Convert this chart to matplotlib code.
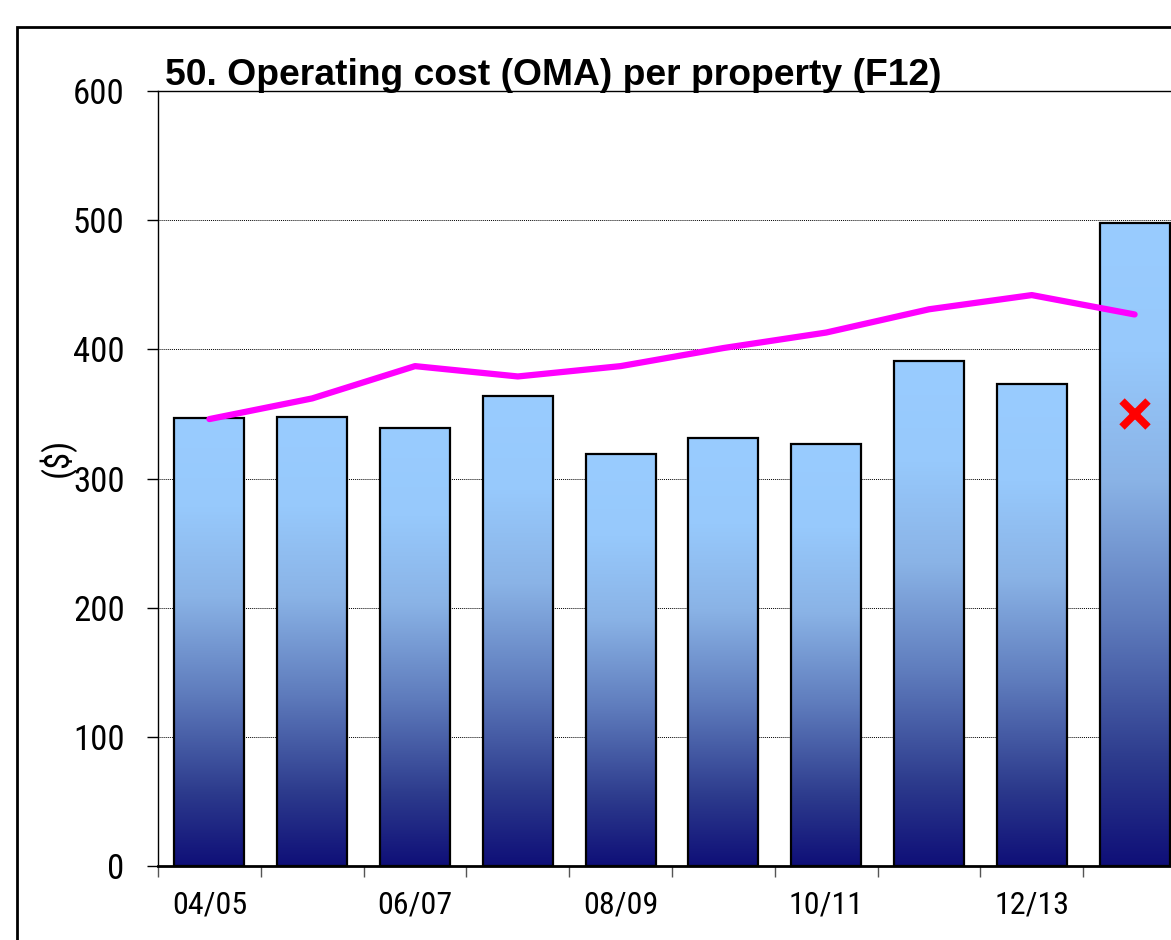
import numpy as np
import matplotlib
matplotlib.use("Agg")
from matplotlib import pyplot as plt
from matplotlib.colors import LinearSegmentedColormap
from matplotlib.patches import Rectangle

# data
years = ["04/05", "05/06", "06/07", "07/08", "08/09", "09/10", "10/11", "11/12", "12/13", "13/14"]
oma_cost = [347, 348, 339, 364, 319, 331, 327, 391, 373, 498]
trend = [346, 362, 387, 379, 387, 401, 413, 431, 442, 427]
marker_val = 350   # red cross on last year
yticks = [0, 100, 200, 300, 400, 500, 600]

NARROW = ["Roboto Condensed", "Liberation Sans", "DejaVu Sans"]
BOLD = ["Liberation Sans", "DejaVu Sans"]

W, H = 1171, 940
fig = plt.figure(figsize=(W / 100, H / 100), dpi=100)

# axes: right edge runs past the picture (chart is cropped)
left, right, bottom, top = 158, 1186, 866, 91
ax = fig.add_axes([left / W, (H - bottom) / H, (right - left) / W, (bottom - top) / H])

# per-bar vertical gradient, dark navy at the base to light blue at the top
grad = LinearSegmentedColormap.from_list(
    "bar", [(0.0, "#0f0f78"), (0.16, "#2c3a8c"), (0.38, "#5e7bbc"), (0.6, "#8ab3e6"), (0.8, "#97c9fc"), (1.0, "#99ccff")])
x = np.arange(len(years))
bw = 0.68
g = np.linspace(0, 1, 256).reshape(-1, 1)
for xi, v in zip(x, oma_cost):
    ax.imshow(g, cmap=grad, origin="lower", aspect="auto",
              extent=[xi - bw / 2, xi + bw / 2, 0, v], zorder=2)
ax.bar(x, oma_cost, width=bw, facecolor="none", edgecolor="black", linewidth=1.6, zorder=3)

ax.plot(x, trend, color="#ff00ff", linewidth=4.5, solid_capstyle="round", solid_joinstyle="round", zorder=4)
ax.plot([x[-1]], [marker_val], marker="x", color="#ff0000", markersize=19, mew=5.5, zorder=5)

ax.set_xlim(-0.5, len(years) - 0.5)
ax.set_ylim(0, 600)
ax.set_yticks(yticks)
ax.set_yticklabels([str(t) for t in yticks], family=NARROW, fontsize=25)
for t in yticks[1:-1]:
    ax.axhline(t, color="black", linestyle=(0, (1, 1)), linewidth=0.7, zorder=1)

ax.set_xticks(x)
ax.set_xticklabels([y if i % 2 == 0 else "" for i, y in enumerate(years)], family=NARROW, fontsize=23)
ax.set_xticks(np.arange(len(years) + 1) - 0.5, minor=True)
ax.tick_params(axis="x", which="major", length=0, pad=18)
ax.tick_params(axis="x", which="minor", length=8, width=1, color="#555555")
ax.tick_params(axis="y", length=8, width=1, pad=16)

ax.spines["right"].set_visible(False)
for s in ["left", "bottom", "top"]:
    ax.spines[s].set_linewidth(1.0)
ax.spines["bottom"].set_linewidth(2.0)

fig.text(57 / W, 1 - 457 / H, "($)", family=NARROW, fontsize=25, rotation=90, ha="center", va="center")

fig.text(165 / W, 1 - 85 / H, "50. Operating cost (OMA) per property (F12)",
         family=BOLD, fontweight="bold", fontsize=26.8, ha="left", va="baseline")

# outer chart frame
fig.patches.append(Rectangle((17 / W, -0.1), 1.2, 1.1 - 27 / H, transform=fig.transFigure,
                             fill=False, edgecolor="black", linewidth=2, clip_on=False))

fig.savefig("out.png", dpi=100)
